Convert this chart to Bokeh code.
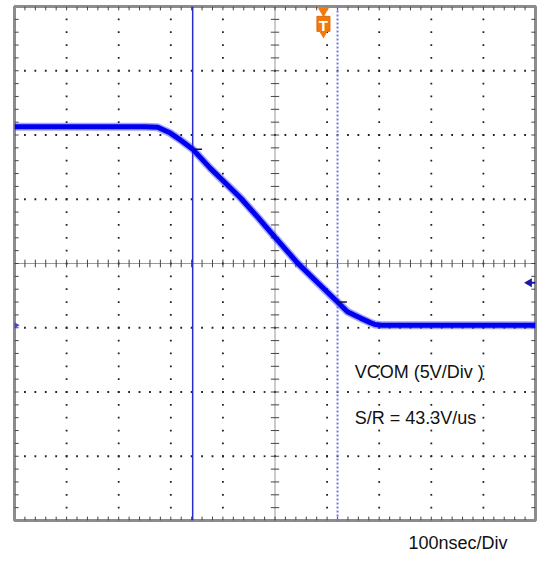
import numpy as np
from bokeh.plotting import figure
from bokeh.models import Range1d, Label, Title
from bokeh.embed import file_html
from bokeh.resources import INLINE

# ---- data (in scope divisions) ----
trace_x = [0, 1, 2, 2.5, 2.75, 2.99, 3.19, 3.32, 3.42, 3.76, 3.95, 4.34, 4.68,
           5.01, 5.43, 5.82, 6.2, 6.39, 6.64, 6.83, 6.92, 7.05, 8, 9, 10]
trace_y = [6.13, 6.13, 6.13, 6.13, 6.12, 6.03, 5.92, 5.84, 5.78, 5.48, 5.33, 5.02, 4.71,
           4.40, 4.01, 3.70, 3.40, 3.25, 3.15, 3.08, 3.05, 3.04, 3.04, 3.04, 3.04]
cursor_a = 3.42
cursor_b = 6.2
cursor_a_level = 5.78
cursor_b_level = 3.40
trigger_pos = 5.93
trigger_level = 3.70
ground_level = 3.04
labels = ["VCOM (5V/Div )", "S/R = 43.3V/us", "100nsec/Div"]

NX, NY, SUB = 10, 8, 5

p = figure(width=541, height=563, x_range=Range1d(0, NX), y_range=Range1d(0, NY),
           output_backend="svg", toolbar_location=None,
           min_border_left=14, min_border_right=6, min_border_top=6, min_border_bottom=42)
p.axis.visible = False
p.grid.visible = False
p.background_fill_color = "white"
p.border_fill_color = "white"
p.outline_line_color = "#8c8c8c"
p.outline_line_width = 3

# dotted major grid lines (dots every sub-division)
gx, gy = [], []
for xv in range(1, NX):
    if xv == NX // 2:
        continue
    for k in range(1, NY * SUB):
        gx.append(xv); gy.append(k / SUB)
for yv in range(1, NY):
    if yv == NY // 2:
        continue
    for k in range(1, NX * SUB):
        gx.append(k / SUB); gy.append(yv)
p.scatter(gx, gy, marker="square", size=1.8, color="#222222", line_width=0)

# center axes: dense dotted line plus small ticks
p.line([0, NX], [NY / 2, NY / 2], line_color="#333333", line_dash="1 1", line_width=1)
p.line([NX / 2, NX / 2], [0, NY], line_color="#333333", line_dash="1 1", line_width=1)
tx = [k / SUB for k in range(1, NX * SUB)]
p.segment(x0=tx, y0=[NY / 2 - 0.06] * len(tx), x1=tx, y1=[NY / 2 + 0.06] * len(tx),
          line_color="#444444", line_width=1)
ty = [k / SUB for k in range(1, NY * SUB)]
p.segment(x0=[NX / 2 - 0.08] * len(ty), y0=ty, x1=[NX / 2 + 0.08] * len(ty), y1=ty,
          line_color="#444444", line_width=1)

# border ticks
p.segment(x0=tx, y0=[0] * len(tx), x1=tx, y1=[0.06] * len(tx), line_color="#444444", line_width=1)
p.segment(x0=tx, y0=[NY] * len(tx), x1=tx, y1=[NY - 0.06] * len(tx), line_color="#444444", line_width=1)
p.segment(x0=[0] * len(ty), y0=ty, x1=[0.08] * len(ty), y1=ty, line_color="#444444", line_width=1)
p.segment(x0=[NX] * len(ty), y0=ty, x1=[NX - 0.08] * len(ty), y1=ty, line_color="#444444", line_width=1)

# cursors
p.line([cursor_a, cursor_a], [0, NY], line_color="#2b2bc8", line_width=1.5)
p.line([cursor_b, cursor_b], [0, NY], line_color="#7878e0", line_width=2, line_dash="2 2")

# trace
p.line(trace_x, trace_y, line_color="#3a3aff", line_width=8, line_alpha=0.45)
p.line(trace_x, trace_y, line_color="#0000f0", line_width=5)

# cursor intersection marks
p.segment(x0=[cursor_a, cursor_b], y0=[cursor_a_level, cursor_b_level],
          x1=[cursor_a + 0.18, cursor_b + 0.18], y1=[cursor_a_level, cursor_b_level],
          line_color="#101060", line_width=1.5)

# trigger marker (top)
p.scatter([trigger_pos], [NY - 0.06], marker="inverted_triangle", size=12,
          color="#f07a10", line_width=0)
p.rect([trigger_pos], [NY - 0.27], width=13, height=15, width_units="screen",
       height_units="screen", fill_color="#f07a10", line_color="#e06a00")
p.scatter([trigger_pos], [NY - 0.40], marker="inverted_triangle", size=11,
          color="#f07a10", line_width=0)
p.text([trigger_pos], [NY - 0.29], text=["T"], text_align="center", text_baseline="middle",
       text_color="white", text_font_size="15px", text_font_style="bold")

# trigger level arrow (right) and ground marker (left)
p.scatter([NX - 0.12], [trigger_level], marker="triangle", angle=np.pi / 2, size=9,
          color="#1a1aa0", line_width=0)
p.segment(x0=[NX - 0.12], y0=[trigger_level], x1=[NX], y1=[trigger_level],
          line_color="#1a1aa0", line_width=2)
p.scatter([0], [ground_level], marker="triangle", angle=-np.pi / 2, size=9,
          color="#4444cc", line_width=0)

# texts
font = "Liberation Sans"
p.add_layout(Label(x=6.53, y=2.16, text=labels[0], text_font=font, text_font_size="18px",
                   text_color="#111111"))
p.add_layout(Label(x=6.53, y=1.44, text=labels[1], text_font=font, text_font_size="18px",
                   text_color="#111111"))
p.add_layout(Title(text=labels[2], align="right", offset=28, standoff=21,
                   text_font=font, text_font_size="18px", text_font_style="normal",
                   text_color="#111111"), "below")

open("out.html", "w").write(file_html(p, INLINE))
